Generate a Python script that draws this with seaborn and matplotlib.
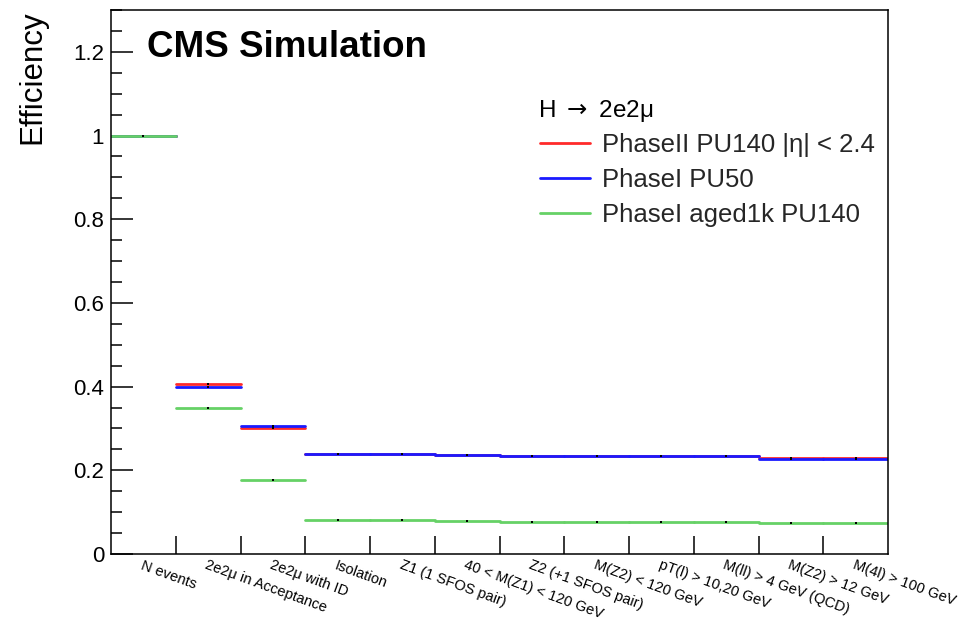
import numpy as np
import pandas as pd
import matplotlib
matplotlib.use("Agg")
import matplotlib.pyplot as plt
from matplotlib.lines import Line2D
from matplotlib.ticker import MultipleLocator, FixedLocator, FuncFormatter
import seaborn as sns

# ---------------- data ----------------
cuts = ["N events", "2e2\u03bc in Acceptance", "2e2\u03bc with ID", "Isolation",
        "Z1 (1 SFOS pair)", "40 < M(Z1) < 120 GeV", "Z2 (+1 SFOS pair)",
        "M(Z2) < 120 GeV", "pT(l) > 10,20 GeV", "M(ll) > 4 GeV (QCD)",
        "M(Z2) > 12 GeV", "M(4l) > 100 GeV"]
phase2_pu140 = [1.0, 0.407, 0.301, 0.239, 0.239, 0.237, 0.235, 0.235, 0.235, 0.235, 0.229, 0.229]
phase1_pu50 = [1.0, 0.400, 0.305, 0.239, 0.239, 0.236, 0.235, 0.235, 0.234, 0.234, 0.226, 0.226]
phase1_aged = [1.0, 0.349, 0.178, 0.081, 0.081, 0.079, 0.077, 0.077, 0.077, 0.077, 0.075, 0.075]
series_names = ["PhaseII PU140 |\u03b7| < 2.4", "PhaseI PU50", "PhaseI aged1k PU140"]
series_vals = [phase2_pu140, phase1_pu50, phase1_aged]
colors = ["#ff2a2a", "#1a1aff", "#66d166"]
header = "H $\\rightarrow$ 2e2\u03bc"

# build long table: each bin is drawn as a horizontal segment (left & right edge)
rows = []
for name, vals in zip(series_names, series_vals):
    for i, v in enumerate(vals):
        rows.append({"x": i, "eff": v, "series": name, "bin": i})
        rows.append({"x": i + 1, "eff": v, "series": name, "bin": i})
df = pd.DataFrame(rows)
centers = pd.DataFrame([{"x": i + 0.5, "eff": v} for vals in series_vals for i, v in enumerate(vals)])

# ---------------- style ----------------
sns.set_theme(style="ticks")
plt.rcParams["font.family"] = ["Liberation Sans", "DejaVu Sans"]
plt.rcParams["mathtext.fontset"] = "dejavusans"

fig = plt.figure(figsize=(9.66, 6.2), dpi=100)
ax = fig.add_axes([111 / 966, 1 - 554 / 620, 777 / 966, 544 / 620])

pal = dict(zip(series_names, colors))
sns.lineplot(data=df, x="x", y="eff", hue="series", units="bin", estimator=None,
             hue_order=series_names, palette=pal, linewidth=2.0, legend=False,
             ax=ax, sort=False)
sns.scatterplot(data=centers, x="x", y="eff", color="black", s=3, marker="s",
                linewidth=0, ax=ax, zorder=5, legend=False)

ax.set_xlim(0, 12)
ax.set_ylim(0, 1.3)

# y axis
ax.yaxis.set_major_locator(MultipleLocator(0.2))
ax.yaxis.set_minor_locator(MultipleLocator(0.05))
ax.yaxis.set_major_formatter(FuncFormatter(lambda v, p: f"{v:g}"))
ax.tick_params(axis="y", which="major", direction="in", length=16, width=1.1,
               labelsize=16, pad=5, colors="black")
ax.tick_params(axis="y", which="minor", direction="in", length=8, width=1.1, colors="black")

# x axis: ticks at bin edges, labels at bin centres
ax.xaxis.set_major_locator(FixedLocator(np.arange(1, 12)))
ax.xaxis.set_major_formatter(FuncFormatter(lambda v, p: ""))
ax.xaxis.set_minor_locator(FixedLocator(np.arange(12) + 0.5))
ax.xaxis.set_minor_formatter(FuncFormatter(lambda v, p: cuts[int(v)]))
ax.tick_params(axis="x", which="major", direction="in", length=13, width=1.1, colors="black")
ax.tick_params(axis="x", which="minor", length=0, labelsize=10.5, pad=3, colors="black")
for lab in ax.get_xticklabels(minor=True):
    lab.set_rotation(-20)
    lab.set_rotation_mode("anchor")
    lab.set_ha("left")
    lab.set_va("top")

for s in ax.spines.values():
    s.set_color("black")
    s.set_linewidth(1.1)
    s.set_visible(True)

ax.set_xlabel("")
ax.set_ylabel("Efficiency", fontsize=22.5, loc="top", color="black")
ax.yaxis.set_label_coords(-0.082, 1.0)

# CMS label
ax.text(147 / 966, 1 - 57 / 620, "CMS Simulation", transform=fig.transFigure,
        fontsize=26.5, fontweight="bold", ha="left", va="baseline", color="black")

# legend header
ax.text(538 / 966, 1 - 117 / 620, header, transform=fig.transFigure,
        fontsize=17.5, ha="left", va="baseline", color="black")

# legend entries
handles = [Line2D([], [], color=c, lw=2.0) for c in colors]
leg = ax.legend(handles, series_names, loc="upper left",
                bbox_to_anchor=(540 / 966, 1 - 133 / 620), bbox_transform=fig.transFigure,
                frameon=False, fontsize=18.5,
                handlelength=1.95, handletextpad=0.45, labelspacing=0.42,
                borderpad=0, borderaxespad=0)

fig.savefig("out.png", dpi=100)
